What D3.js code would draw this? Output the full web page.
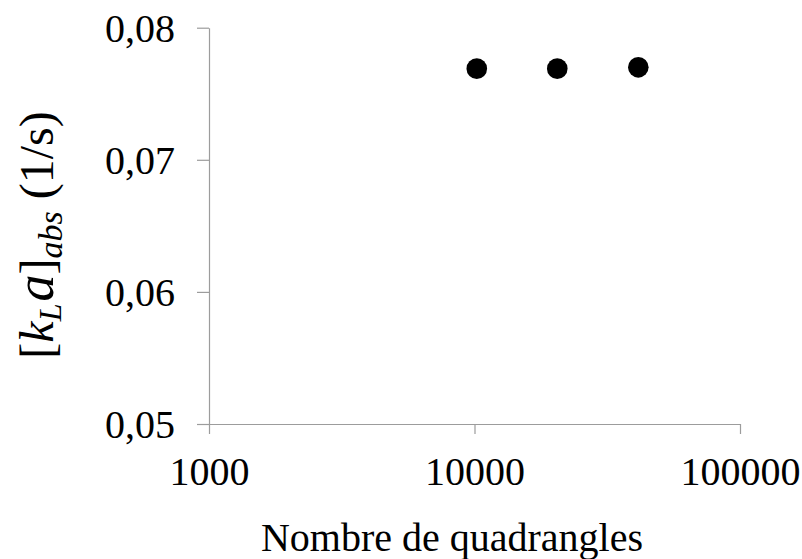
<!DOCTYPE html>
<html>
<head>
<meta charset="utf-8">
<script src="https://cdn.jsdelivr.net/npm/d3@7"></script>
<style>
  html, body { margin: 0; padding: 0; background: #fff; }
  svg { display: block; }
  text { font-family: "Liberation Serif", "Times New Roman", serif; fill: #000; }
</style>
</head>
<body>
<script>
// Data
const quadrangles = [10200, 20500, 41400];
const kLaAbs = [0.0769, 0.0769, 0.0770];
const xTicks = [1000, 10000, 100000];
const yTicks = [0.05, 0.06, 0.07, 0.08];
const xTitle = "Nombre de quadrangles";

const W = 802, H = 559;
const svg = d3.select("body").append("svg").attr("width", W).attr("height", H);

const x = d3.scaleLog().domain([1000, 100000]).range([209, 740]);
const y = d3.scaleLinear().domain([0.05, 0.08]).range([424, 27.7]);

const axisColor = "#9c9c9c";
const fmtY = d => d3.format(".2f")(d).replace(".", ",");

// X axis
const gx = svg.append("g").attr("transform", `translate(0,${y(0.05)})`)
  .call(d3.axisBottom(x).tickValues(xTicks).tickSize(10).tickSizeOuter(0).tickFormat(d3.format("d")));
gx.select(".domain").attr("stroke", axisColor).attr("stroke-width", 1.2);
gx.selectAll(".tick line").attr("stroke", axisColor).attr("stroke-width", 1.2);
gx.selectAll(".tick text").attr("font-size", 40)
  .attr("y", 0).attr("dy", null).attr("transform", "translate(0,61)");

// Y axis
const gy = svg.append("g").attr("transform", `translate(${x(1000)},0)`)
  .call(d3.axisLeft(y).tickValues(yTicks).tickSize(12).tickSizeOuter(0).tickFormat(fmtY));
gy.select(".domain").attr("stroke", axisColor).attr("stroke-width", 1.2);
gy.selectAll(".tick line").attr("stroke", axisColor).attr("stroke-width", 1.2);
gy.selectAll(".tick text").attr("font-size", 40)
  .attr("x", -34).attr("dy", "0.34em");

// Points
svg.append("g").selectAll("circle")
  .data(quadrangles.map((q, i) => [q, kLaAbs[i]]))
  .join("circle")
  .attr("cx", d => x(d[0]))
  .attr("cy", d => y(d[1]))
  .attr("r", 10.3)
  .attr("fill", "#000");

// X title
svg.append("text")
  .attr("x", 452).attr("y", 551)
  .attr("text-anchor", "middle")
  .attr("font-size", 40)
  .text(xTitle);

// Y title: [k_L a]_abs (1/s)
const yt = svg.append("text")
  .attr("transform", "translate(53,235) rotate(-90)")
  .attr("text-anchor", "middle")
  .attr("font-size", 48);
yt.append("tspan").text("[");
yt.append("tspan").attr("font-style", "italic").text("k");
yt.append("tspan").attr("font-style", "italic").attr("font-size", 32).attr("dy", 8).text("L");
yt.append("tspan").attr("font-style", "italic").attr("font-size", 54).attr("dy", -8).attr("dx", 2).text("a");
yt.append("tspan").text("]");
yt.append("tspan").attr("font-style", "italic").attr("font-size", 34).attr("dy", 9).text("abs");
yt.append("tspan").attr("dy", -9).text(" (1/s)");
</script>
</body>
</html>
